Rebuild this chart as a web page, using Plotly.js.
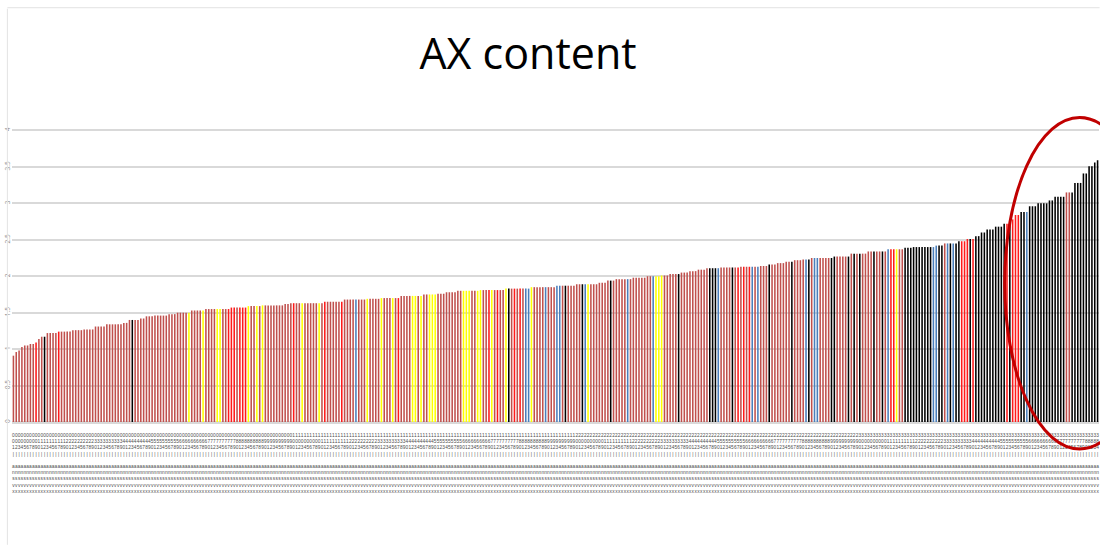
<!DOCTYPE html>
<html>
<head>
<meta charset="utf-8">
<script src="https://cdn.plot.ly/plotly-3.0.1.min.js"></script>
<style>
html, body { margin: 0; padding: 0; background: #ffffff; }
#chart { width: 1100px; height: 545px; }
</style>
</head>
<body>
<div id="chart"></div>
<script>
// ---- data (sorted AX content per sample) ----
const values = [
  0.91, 0.96, 0.98, 1.03, 1.05, 1.05, 1.07, 1.07, 1.09, 1.14, 1.17, 1.17,
  1.22, 1.22, 1.22, 1.22, 1.24, 1.24, 1.24, 1.24, 1.24, 1.26, 1.26, 1.26, 1.26,
  1.27, 1.27, 1.27, 1.27, 1.31, 1.31, 1.31, 1.31, 1.34, 1.34, 1.34, 1.34, 1.34, 1.34,
  1.36, 1.36, 1.40, 1.40, 1.40, 1.40, 1.42, 1.42, 1.45, 1.45, 1.45,
  1.46, 1.46, 1.46, 1.46, 1.46, 1.48, 1.48, 1.48, 1.50, 1.50, 1.50, 1.50, 1.50,
  1.53, 1.53, 1.53, 1.53, 1.53, 1.55, 1.55, 1.55, 1.55, 1.55, 1.55, 1.55, 1.55, 1.55,
  1.57, 1.57, 1.57, 1.57, 1.57, 1.57, 1.59, 1.59, 1.59, 1.59, 1.59,
  1.60, 1.60, 1.60, 1.60, 1.60, 1.60, 1.60, 1.60, 1.62, 1.62,
  1.63, 1.63, 1.63, 1.63, 1.63, 1.63, 1.63, 1.63, 1.63, 1.63, 1.63, 1.63,
  1.65, 1.65, 1.65, 1.65, 1.65, 1.65, 1.65, 1.68, 1.68, 1.68, 1.68, 1.68, 1.68, 1.68, 1.68,
  1.69, 1.69, 1.69, 1.69, 1.69, 1.70, 1.70, 1.70, 1.70, 1.70, 1.70, 1.70,
  1.73, 1.73, 1.73, 1.73, 1.73, 1.73, 1.73, 1.73, 1.75, 1.75, 1.75, 1.75, 1.75,
  1.76, 1.76, 1.76, 1.78, 1.78, 1.78, 1.78, 1.80, 1.80, 1.80, 1.80, 1.80, 1.80, 1.80, 1.80,
  1.81, 1.81, 1.81, 1.81, 1.81, 1.81, 1.81, 1.81, 1.81,
  1.83, 1.83, 1.83, 1.83, 1.83, 1.83, 1.83, 1.83, 1.83,
  1.85, 1.85, 1.85, 1.85, 1.85, 1.85, 1.85, 1.85, 1.85,
  1.87, 1.87, 1.87, 1.87, 1.87, 1.87, 1.87, 1.89, 1.89, 1.89, 1.89, 1.89, 1.89, 1.89, 1.89,
  1.91, 1.91, 1.91, 1.94, 1.94, 1.94, 1.96, 1.96, 1.96, 1.96, 1.96, 1.96,
  1.98, 1.98, 1.98, 1.98, 1.98, 2.00, 2.00, 2.00, 2.00, 2.00, 2.01, 2.01, 2.01,
  2.03, 2.03, 2.03, 2.03, 2.05, 2.05, 2.05, 2.07, 2.07, 2.07, 2.09, 2.09, 2.09,
  2.11, 2.11, 2.11, 2.11, 2.11, 2.12, 2.12, 2.12, 2.12, 2.12, 2.12, 2.12,
  2.13, 2.13, 2.13, 2.13, 2.13, 2.13, 2.13, 2.14, 2.14, 2.14, 2.16, 2.16, 2.16,
  2.18, 2.18, 2.18, 2.20, 2.20, 2.20, 2.22, 2.22, 2.22, 2.23, 2.23, 2.23,
  2.25, 2.25, 2.25, 2.25, 2.25, 2.25, 2.25, 2.25, 2.27, 2.27, 2.27, 2.27, 2.27, 2.27,
  2.31, 2.31, 2.31, 2.31, 2.31, 2.31, 2.34, 2.34, 2.34, 2.34, 2.34, 2.34, 2.34,
  2.37, 2.37, 2.37, 2.37, 2.37, 2.37, 2.39, 2.39, 2.39,
  2.40, 2.40, 2.40, 2.40, 2.40, 2.40, 2.40, 2.40, 2.42, 2.42, 2.42,
  2.45, 2.45, 2.45, 2.45, 2.45, 2.48, 2.48, 2.48, 2.51, 2.51, 2.51, 2.55, 2.55,
  2.60, 2.60, 2.64, 2.64, 2.64, 2.68, 2.68, 2.68, 2.72, 2.72, 2.78, 2.78, 2.84, 2.84,
  2.88, 2.88, 2.88, 2.96, 2.96, 2.96, 3.00, 3.00, 3.00, 3.00, 3.04, 3.04,
  3.09, 3.09, 3.09, 3.09, 3.15, 3.15, 3.15, 3.28, 3.28, 3.28, 3.41, 3.41,
  3.51, 3.51, 3.56, 3.59
];

// sample group of each bar (R, F, Y, B, K), left to right
const barGroups = (
  "RRRRRRRRFRRKRRRRFRRRRRRRRRRRRRRR" +
  "RRRRRRRRRRKRRRRRRRRRRRRRRRRRRRYR" +
  "RRRYRRRRYYRRFFFRFFFYRRYRYRRRRRRR" +
  "RRRFRRYRRRRRYRFRRRRRFRRRRBRRRYRR" +
  "RRYRRRYRFRRRRYYRYRRYYYRRRRRRRRRY" +
  "YYRRYYRRFYRFRRYKRFRFRBBYRRRRBRRR" +
  "BBRKRRRRRKBYRRRRRRRKRRRRRBRRRRRR" +
  "RRBYYYRRRRRKRRRRRRRRRRKKKBRRRRKR" +
  "FRFRFBRBRRRKRRRRRRRKRRRRBKRBBRRR" +
  "RKKRRRRKRKRKRRRRKRRKRBFFYRRKKKKK" +
  "KKKKKBBKKRBKBKKFFFKFKKKKKKKKKKKF" +
  "KFFFKKBKKKKKKKKKKKKKRRKKKKKKKKKK"
).split("");

const yTickValues = [0, 0.5, 1, 1.5, 2, 2.5, 3, 3.5, 4];
const chartTitle = "AX content";

// ---- styling ----
const groupColors = { R: "#c0504d", F: "#ff1a1a", Y: "#ffff00", B: "#4a7ebb", K: "#000000" };

const W = 1100, H = 545;
const M = { l: 11.6, r: 0.6, t: 128.5, b: 123 };
const plotW = W - M.l - M.r, plotH = H - M.t - M.b;
const px2x = p => (p - M.l) / plotW;
const px2y = p => (H - M.b - p) / plotH;

// sample identifiers (stacked vertically under each bar)
const categories = values.map((v, i) => String(i + 1).padStart(3, "0"));
const tickText = categories.map(c => c.split("").join("<br>") + "<br>|<br><br>a<br>n<br>s<br>v<br>x");

const trace = {
  type: "bar",
  x: categories,
  y: values,
  marker: { color: barGroups.map(g => groupColors[g]), line: { width: 0 } },
  hoverinfo: "x+y",
  showlegend: false
};

const layout = {
  width: W, height: H,
  margin: M,
  paper_bgcolor: "#ffffff",
  plot_bgcolor: "#ffffff",
  font: { family: "Open Sans, Noto Sans, sans-serif", color: "#000000" },
  title: {
    text: chartTitle,
    font: { family: "Open Sans, sans-serif", size: 43, color: "#000000" },
    x: 528 / W, xref: "container", xanchor: "center",
    y: 1 - 54 / H, yref: "container", yanchor: "middle"
  },
  bargap: 0.45,
  xaxis: {
    type: "category",
    range: [-0.5, values.length - 0.5],
    tickmode: "array",
    tickvals: categories,
    ticktext: tickText,
    tickangle: 0,
    ticklabelstandoff: 9,
    tickfont: { size: 4.8, color: "#4d4d4d", family: "Liberation Sans, sans-serif" },
    showgrid: false, showline: false, zeroline: false, ticks: "",
    automargin: false, fixedrange: true
  },
  yaxis: {
    range: [0, 4.02],
    tickmode: "array",
    tickvals: yTickValues,
    tickangle: -90,
    tickfont: { size: 6.5, color: "#8c8c8c" },
    showgrid: true, gridcolor: "#d9d9d9", gridwidth: 2,
    zeroline: true, zerolinecolor: "#d9d9d9", zerolinewidth: 3,
    showline: false, ticks: "", automargin: false, fixedrange: true
  },
  shapes: [
    { type: "line", xref: "paper", yref: "paper",
      x0: px2x(7), x1: px2x(7), y0: px2y(8), y1: px2y(545),
      line: { color: "#e3e3e3", width: 1 } },
    { type: "line", xref: "paper", yref: "paper",
      x0: px2x(7), x1: px2x(1100), y0: px2y(7), y1: px2y(7),
      line: { color: "#e3e3e3", width: 1 } },
    { type: "circle", xref: "paper", yref: "paper",
      x0: px2x(1005), x1: px2x(1155), y0: px2y(449), y1: px2y(117),
      line: { color: "#c00000", width: 3 } }
  ]
};

Plotly.newPlot("chart", [trace], layout, { displayModeBar: false, staticPlot: true });
</script>
</body>
</html>
